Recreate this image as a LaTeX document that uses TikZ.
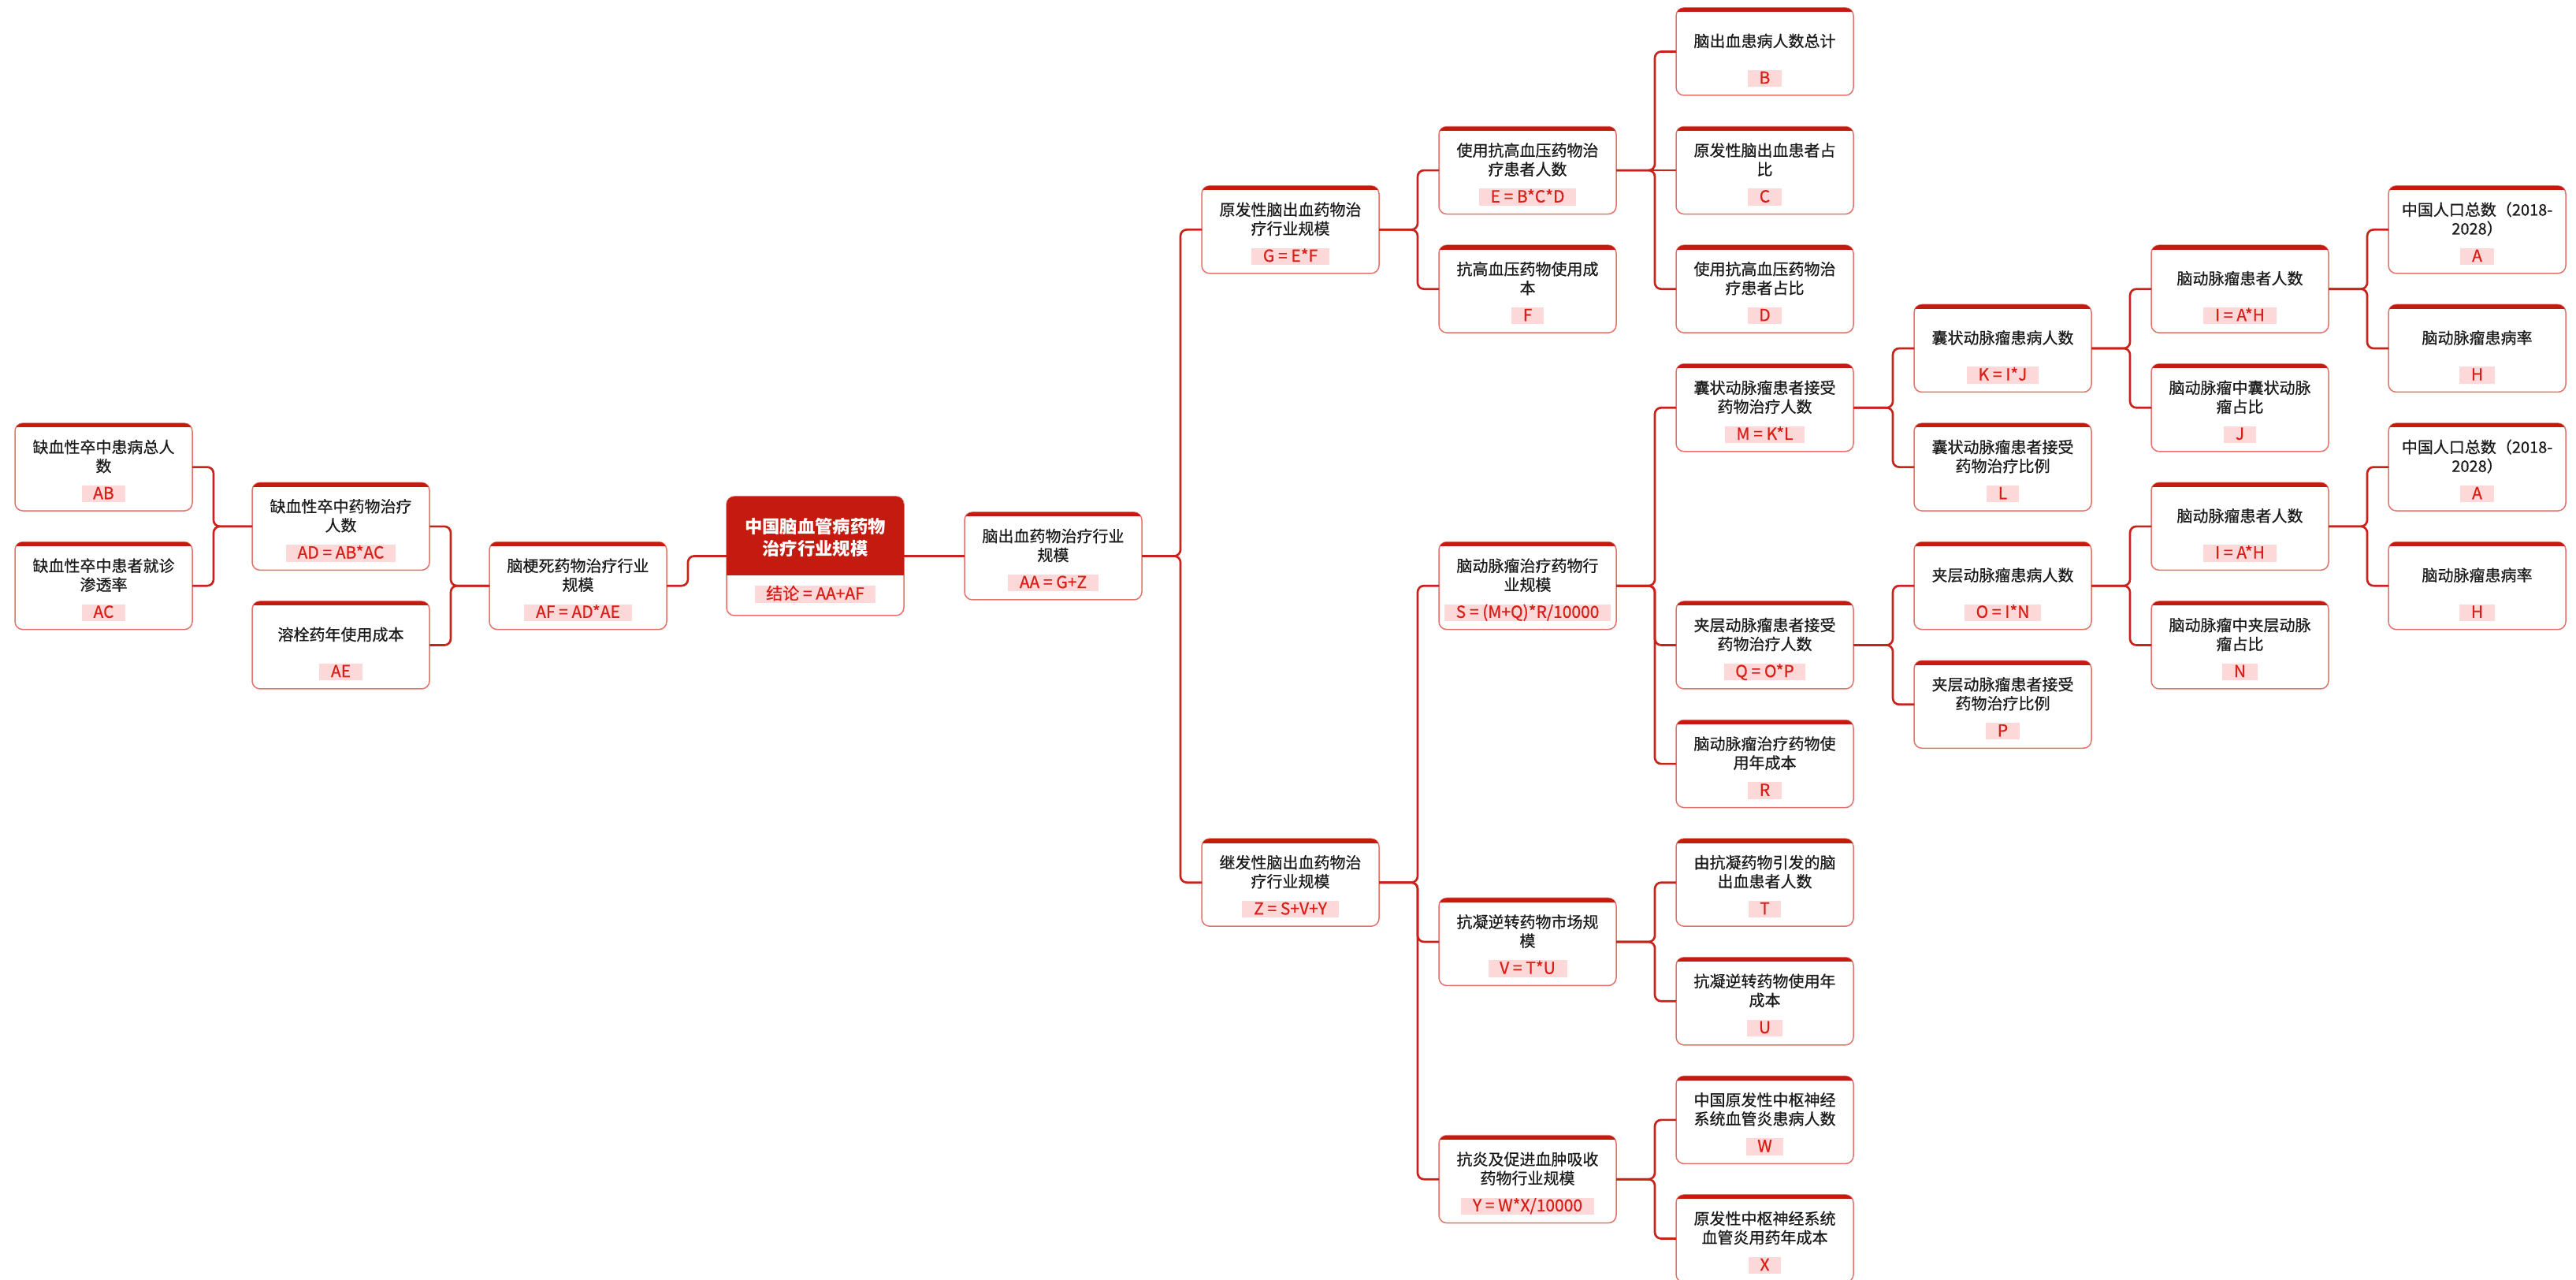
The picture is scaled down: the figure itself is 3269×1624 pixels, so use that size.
\documentclass[tikz,border=0pt]{standalone}
\usepackage{fontspec}
\newfontfamily\cjk{Noto Sans CJK SC}[FakeBold=0.6]
\newfontfamily\cjkbold{Noto Sans CJK SC}
\definecolor{linered}{HTML}{C8231B}
\definecolor{topred}{HTML}{C41A10}
\definecolor{boxline}{HTML}{E2736A}
\definecolor{fmlbg}{HTML}{FDD8D8}
\definecolor{fmlred}{HTML}{D81E16}
\definecolor{txt}{HTML}{1A1A1A}
\tikzset{
  boxshape/.style={rectangle, draw=boxline, line width=0.45pt, fill=white,
    rounded corners=3pt, minimum width=67.5pt, minimum height=33.3pt,
    inner sep=0pt, outer sep=0pt},
  ttl/.style={align=center, inner sep=0pt, text=txt,
    font=\cjk\fontsize{6}{7.2}\selectfont},
  fml/.style={fill=fmlbg, text=fmlred, inner xsep=4.4pt, inner ysep=0.3pt,
    text height=4.9pt, text depth=0.9pt, font=\cjk\fontsize{6.3}{7}\selectfont},
  conn/.style={draw=linered, line width=0.8pt, rounded corners=2.4pt},
}
\newcommand\topicbox[5]{%
  \node[boxshape] (#1) at ({#2+112.5},{#3+55.5}) {};
  \begin{scope}
    \clip[rounded corners=3pt] (#1.south west) rectangle (#1.north east);
    \fill[topred] (#1.north west) rectangle ([yshift=-1.6pt]#1.north east);
  \end{scope}
  \node[ttl] (#1t) at ({#2+112.5},{#3+42}) {#4};
  \node[fml] (#1f) at ({#2+112.5},{#3+89.5}) {#5};
}
\begin{document}
\begin{tikzpicture}[x=0.3pt,y=-0.3pt]
\fill[white] (0,0) rectangle (3269,1624);
\useasboundingbox (0,0) rectangle (3269,1624);

% left branch
\topicbox{AB}{19}{537.1}{缺血性卒中患病总人\\数}{AB}
\topicbox{AC}{19}{687.7}{缺血性卒中患者就诊\\渗透率}{AC}
\topicbox{AD}{320}{612.4}{缺血性卒中药物治疗\\人数}{AD = AB*AC}
\topicbox{AE}{320}{763}{溶栓药年使用成本}{AE}
\topicbox{AF}{621}{687.7}{脑梗死药物治疗行业\\规模}{AF = AD*AE}

% root
\node[boxshape, minimum height=45.3pt] (root) at (1034.5,705.5) {};
\begin{scope}
  \clip[rounded corners=3pt] (root.south west) rectangle (root.north east);
  \fill[topred] (root.north west) rectangle ([yshift=-30pt]root.north east);
\end{scope}
\node[ttl, text=white, font=\cjkbold\bfseries\fontsize{6.7}{8.4}\selectfont] (roott) at (1034.5,682) {中国脑血管病药物\\治疗行业规模};
\node[fml] (rootf) at (1034.5,754) {结论 = AA+AF};

% right branch
\topicbox{AA}{1224}{650}{脑出血药物治疗行业\\规模}{AA = G+Z}
\topicbox{G}{1525}{235.9}{原发性脑出血药物治\\疗行业规模}{G = E*F}
\topicbox{Z}{1525}{1064.2}{继发性脑出血药物治\\疗行业规模}{Z = S+V+Y}
\topicbox{E}{1826}{160.6}{使用抗高血压药物治\\疗患者人数}{E = B*C*D}
\topicbox{F}{1826}{311.2}{抗高血压药物使用成\\本}{F}
\topicbox{S}{1826}{687.7}{脑动脉瘤治疗药物行\\业规模}{S = (M+Q)*R/10000}
\topicbox{V}{1826}{1139.5}{抗凝逆转药物市场规\\模}{V = T*U}
\topicbox{Y}{1826}{1440.7}{抗炎及促进血肿吸收\\药物行业规模}{Y = W*X/10000}
\topicbox{B}{2127}{10}{脑出血患病人数总计}{B}
\topicbox{C}{2127}{160.6}{原发性脑出血患者占\\比}{C}
\topicbox{D}{2127}{311.2}{使用抗高血压药物治\\疗患者占比}{D}
\topicbox{M}{2127}{461.8}{囊状动脉瘤患者接受\\药物治疗人数}{M = K*L}
\topicbox{Q}{2127}{763}{夹层动脉瘤患者接受\\药物治疗人数}{Q = O*P}
\topicbox{R}{2127}{913.6}{脑动脉瘤治疗药物使\\用年成本}{R}
\topicbox{T}{2127}{1064.2}{由抗凝药物引发的脑\\出血患者人数}{T}
\topicbox{U}{2127}{1214.8}{抗凝逆转药物使用年\\成本}{U}
\topicbox{W}{2127}{1365.4}{中国原发性中枢神经\\系统血管炎患病人数}{W}
\topicbox{X}{2127}{1516}{原发性中枢神经系统\\血管炎用药年成本}{X}
\topicbox{K}{2429}{386.5}{囊状动脉瘤患病人数}{K = I*J}
\topicbox{L}{2429}{537.1}{囊状动脉瘤患者接受\\药物治疗比例}{L}
\topicbox{O}{2429}{687.7}{夹层动脉瘤患病人数}{O = I*N}
\topicbox{P}{2429}{838.3}{夹层动脉瘤患者接受\\药物治疗比例}{P}
\topicbox{Ia}{2730}{311.2}{脑动脉瘤患者人数}{I = A*H}
\topicbox{J}{2730}{461.8}{脑动脉瘤中囊状动脉\\瘤占比}{J}
\topicbox{Ib}{2730}{612.4}{脑动脉瘤患者人数}{I = A*H}
\topicbox{N}{2730}{763}{脑动脉瘤中夹层动脉\\瘤占比}{N}
\topicbox{Aa}{3031}{235.9}{中国人口总数（2018-\\2028）}{A}
\topicbox{Ha}{3031}{386.5}{脑动脉瘤患病率}{H}
\topicbox{Ab}{3031}{537.1}{中国人口总数（2018-\\2028）}{A}
\topicbox{Hb}{3031}{687.7}{脑动脉瘤患病率}{H}

% connectors, left side
\foreach \p/\c in {AD/AB, AD/AC, AF/AD, AF/AE, root/AF}
  \draw[conn] (\p.west) -| ([xshift=8.1pt]\c.east) -- (\c.east);
% connectors, right side
\draw[conn] (root.east) -- (AA.west);
\draw[conn] (E.east) -- (C.west);
\foreach \p/\c in {AA/G, AA/Z, G/E, G/F, E/B, E/D, Z/S, Z/V, Z/Y,
    S/M, S/Q, S/R, V/T, V/U, Y/W, Y/X, M/K, M/L, Q/O, Q/P,
    K/Ia, K/J, O/Ib, O/N, Ia/Aa, Ia/Ha, Ib/Ab, Ib/Hb}
  \draw[conn] (\p.east) -| ([xshift=-8.1pt]\c.west) -- (\c.west);
\end{tikzpicture}
\end{document}
